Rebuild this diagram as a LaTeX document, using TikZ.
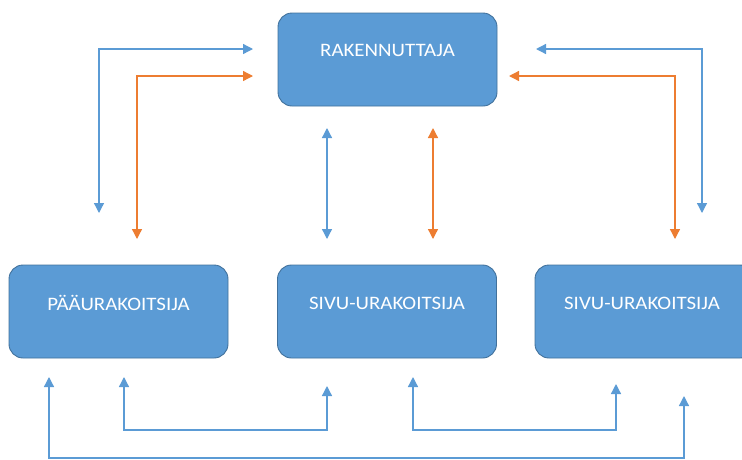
\documentclass[tikz,border=0pt]{standalone}
\usepackage{fontspec}
\setmainfont{Carlito}
\usetikzlibrary{arrows.meta}
\definecolor{boxfill}{HTML}{5B9BD5}
\definecolor{boxline}{HTML}{41719C}
\definecolor{arrblue}{HTML}{5B9BD5}
\definecolor{arrorange}{HTML}{ED7D31}
\tikzset{
  box/.style={draw=boxline, line width=0.9pt, fill=boxfill, rounded corners=14pt,
    minimum width=219pt, minimum height=93pt, inner sep=0pt},
  lbl/.style={text=white, font=\fontsize{19}{21}\selectfont, inner sep=0pt, xscale=1.1},
  conn2/.style={line width=1.3pt, arrows={Triangle[width=10pt,length=10pt]-Triangle[width=10pt,length=10pt]}},
}
\begin{document}
\begin{tikzpicture}[x=1pt,y=-1pt]
\useasboundingbox (0,0) rectangle (742,459);
\clip (0,0) rectangle (742,459);
% boxes
\node[box] (top) at (387.5,59.5) {};
\node[lbl] (toplbl) at (387.5,50) {RAKENNUTTAJA};
\node[box] (left) at (118.5,311.5) {};
\node[lbl] (leftlbl) at (118.5,303) {PÄÄURAKOITSIJA};
\node[box] (mid) at (387,311.5) {};
\node[lbl] (midlbl) at (387,303) {SIVU-URAKOITSIJA};
\node[box] (right) at (644.5,311.5) {};
\node[lbl] (rightlbl) at (642,303) {SIVU-URAKOITSIJA};
% connector end points
\coordinate (tlB1) at (99,213);  \coordinate (tlB2) at (253,49);
\coordinate (tlO1) at (137,239); \coordinate (tlO2) at (253,76);
\coordinate (trB1) at (536,49);  \coordinate (trB2) at (702,213);
\coordinate (trO1) at (509,76);  \coordinate (trO2) at (675,239);
\coordinate (mB1) at (327,128);  \coordinate (mB2) at (327,239);
\coordinate (mO1) at (433,128);  \coordinate (mO2) at (433,239);
\coordinate (b1a) at (124,377);  \coordinate (b1b) at (327,386);
\coordinate (b2a) at (413,377);  \coordinate (b2b) at (616,384);
\coordinate (b3a) at (49,377);   \coordinate (b3b) at (684,396);
% top connectors
\draw[conn2, arrblue] (tlB1) |- (tlB2);
\draw[conn2, arrorange] (tlO1) |- (tlO2);
\draw[conn2, arrblue] (trB1) -| (trB2);
\draw[conn2, arrorange] (trO1) -| (trO2);
\draw[conn2, arrblue] (mB1) -- (mB2);
\draw[conn2, arrorange] (mO1) -- (mO2);
% bottom connectors
\draw[conn2, arrblue] (b1a) -- (b1a |- 0,430) -- (b1b |- 0,430) -- (b1b);
\draw[conn2, arrblue] (b2a) -- (b2a |- 0,430) -- (b2b |- 0,430) -- (b2b);
\draw[conn2, arrblue] (b3a) -- (b3a |- 0,458) -- (b3b |- 0,458) -- (b3b);
\end{tikzpicture}
\end{document}
